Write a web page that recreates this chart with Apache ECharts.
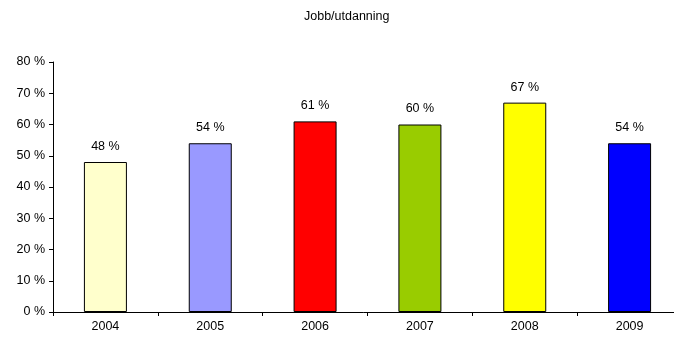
<!DOCTYPE html>
<html><head><meta charset="utf-8">
<script src="https://cdn.jsdelivr.net/npm/echarts@6/dist/echarts.min.js"></script>
<style>html,body{margin:0;padding:0;background:#fff}#c{width:674px;height:339px}</style>
</head><body><div id="c"></div>
<script>
const title = 'Jobb/utdanning';
const categories = ['2004','2005','2006','2007','2008','2009'];
const values = [48, 54, 61, 60, 67, 54];
const colors = ['#FFFFCC','#9999FF','#FF0000','#99CC00','#FFFF00','#0000FF'];
const yTicks = [0,10,20,30,40,50,60,70,80];

const chart = echarts.init(document.getElementById('c'), null, {renderer:'canvas'});
const font = 'Liberation Sans, Arial, sans-serif';
chart.setOption({
  animation:false,
  title:{text:title,left:304,top:10,padding:0,textStyle:{fontFamily:font,fontSize:12.5,fontWeight:'normal',color:'#000'}},
  grid:{left:53,top:62,width:629,height:250,containLabel:false,outerBoundsMode:'none'},
  xAxis:{type:'category',data:categories,
    axisLine:{lineStyle:{color:'#000',width:1}},
    axisTick:{show:true,alignWithLabel:false,length:4,lineStyle:{color:'#000'}},
    axisLabel:{fontFamily:font,fontSize:12.5,color:'#000',margin:8}},
  yAxis:{type:'value',min:yTicks[0],max:yTicks[yTicks.length-1],interval:10,
    axisLine:{show:true,lineStyle:{color:'#000',width:1}},
    axisTick:{show:true,length:4,lineStyle:{color:'#000'}},
    splitLine:{show:false},
    axisLabel:{fontFamily:font,fontSize:12.5,color:'#000',margin:8,formatter:v=>v+' %'}},
  series:[{type:'bar',barWidth:43,
    data:values.map((v,i)=>({value:v,itemStyle:{color:colors[i]}})),
    itemStyle:{borderColor:'#000',borderWidth:1},
    label:{show:true,position:'top',distance:9,fontFamily:font,fontSize:12.5,color:'#000',formatter:p=>p.value+' %'}}]
});
</script></body></html>
